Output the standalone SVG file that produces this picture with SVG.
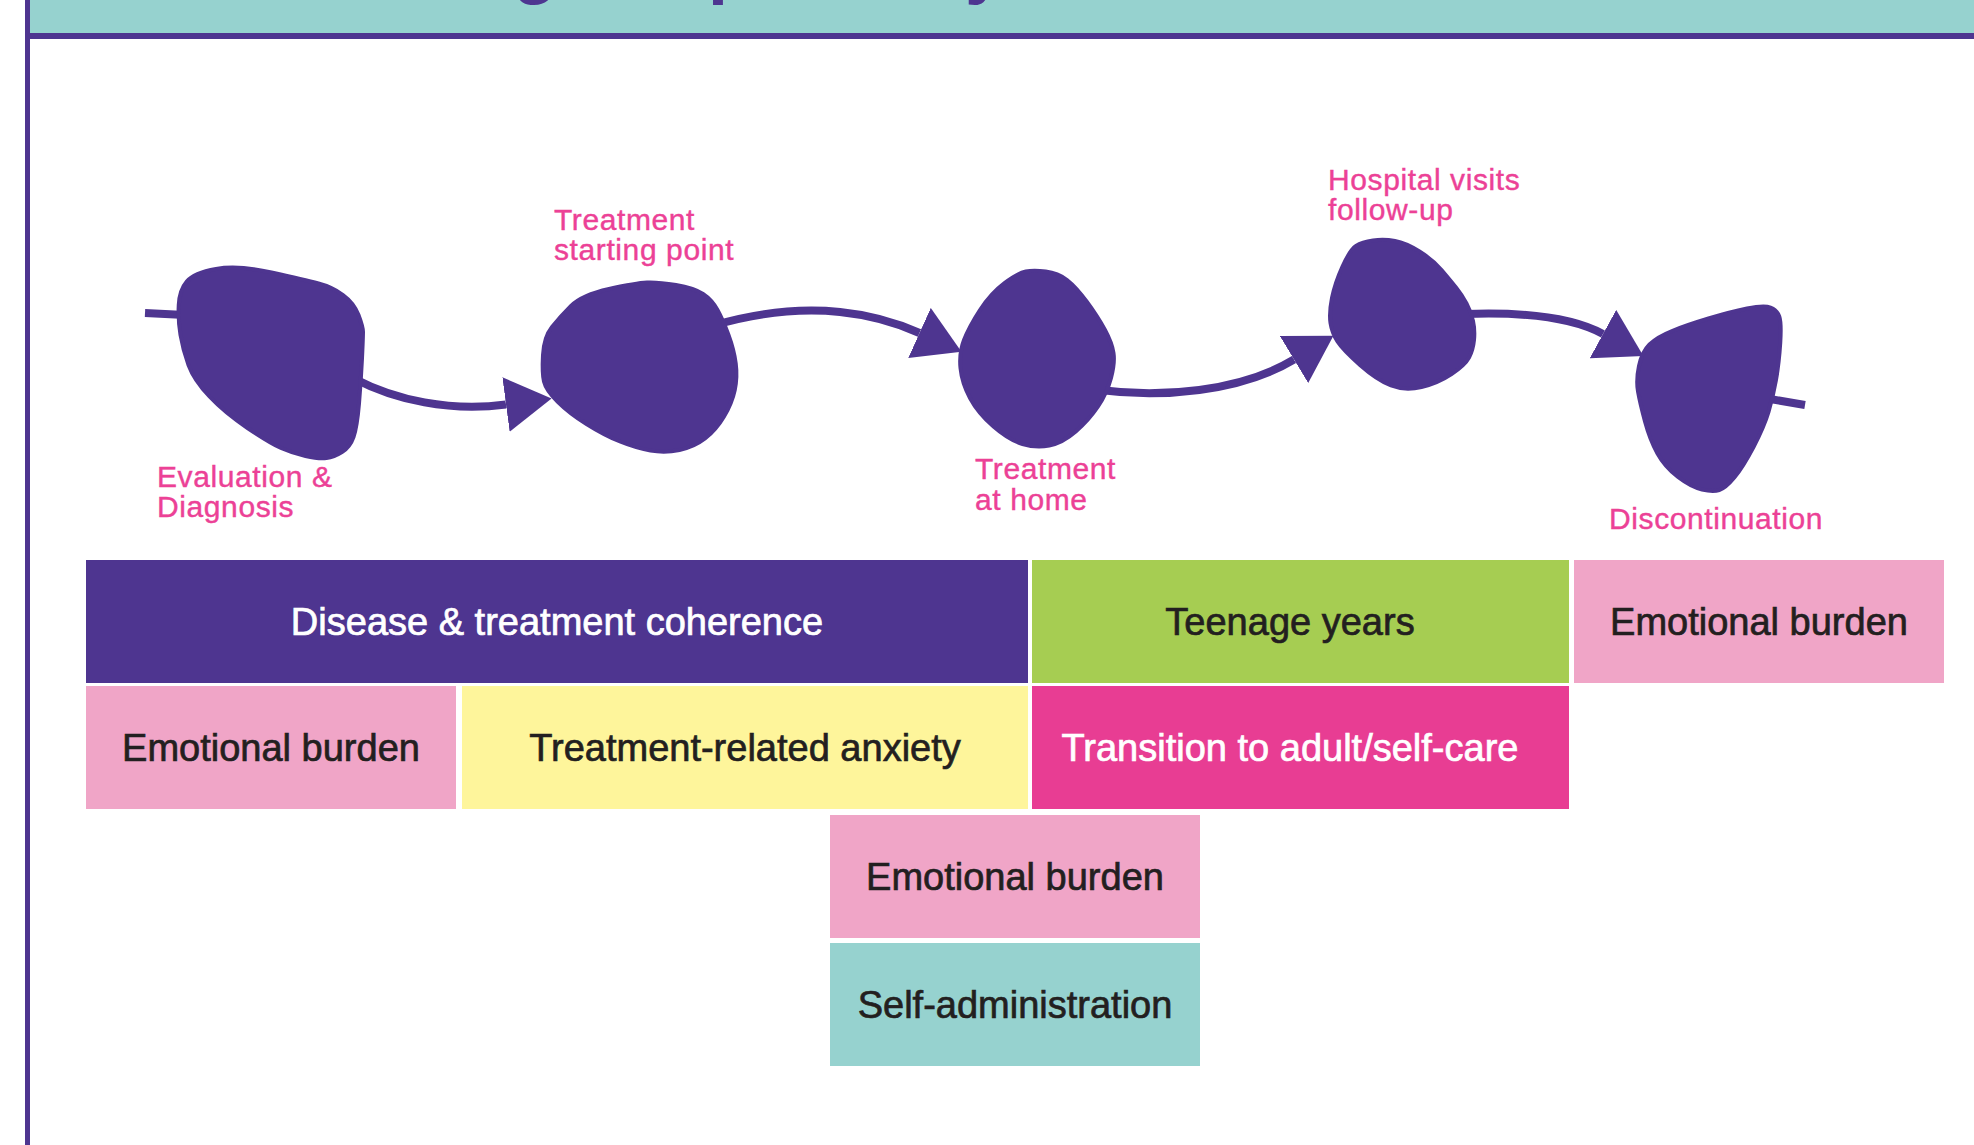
<svg xmlns="http://www.w3.org/2000/svg" width="1974" height="1145" viewBox="0 0 1974 1145">
<defs>
<style>
.blob{fill:#4e3590;stroke:#4e3590;stroke-width:4;stroke-linejoin:round}
.conn{fill:none;stroke:#4e3590;stroke-width:8}
.lbl{font-family:"Liberation Sans",Arial,sans-serif;font-size:30px;fill:#ec4196;stroke:#ec4196;stroke-width:0.4px;letter-spacing:0.6px}
.bt{font-family:"Liberation Sans",Arial,sans-serif;font-size:38px;text-anchor:middle;stroke-width:0.7px}
.dk{fill:#231f20;stroke:#231f20}
.wt{fill:#ffffff;stroke:#ffffff}
.ttl{font-family:"Liberation Sans",Arial,sans-serif;font-size:72px;font-weight:bold;fill:#4e3590}
</style>
<marker id="arrow" viewBox="0 0 46 55" markerWidth="46" markerHeight="55" markerUnits="userSpaceOnUse" refX="0" refY="27.5" orient="auto">
<path d="M0,0 L46,27.5 L0,55 Z" fill="#4e3590"/>
</marker>
</defs>
<rect x="0" y="0" width="1974" height="1145" fill="#ffffff"/>
<g id="header">
<rect x="30" y="0" width="1944" height="33" fill="#96d2cf"/>
<rect x="25" y="33" width="1949" height="6" fill="#4e3590"/>
<rect x="25" y="0" width="5" height="1145" fill="#4e3590"/>
<text class="ttl" x="513" y="-10">g</text>
<text class="ttl" x="708" y="-10">p</text>
<text class="ttl" x="965" y="-10">y</text>
</g>
<g id="connectors">
<path class="conn" d="M145,313 L185,315"/>
<path class="conn" d="M355,379 C395,400 450,412 506,404.5" marker-end="url(#arrow)"/>
<path class="conn" d="M715,325 C760,312 800,308 840,312 C870,315 895,322 919.5,333" marker-end="url(#arrow)"/>
<path class="conn" d="M1100,390 C1160,398 1240,392 1294,359.5" marker-end="url(#arrow)"/>
<path class="conn" d="M1465,314 C1520,312 1570,316 1603,334" marker-end="url(#arrow)"/>
<path class="conn" d="M1770,399 L1805,405"/>
</g>
<g id="node-evaluation">
<path class="blob" d="M186.75,281.5 Q194,273 216,269 Q238,265 271.5,272.5 Q305,280 318.5,283.5 Q332,287 343,295 Q354,303 358.5,315 Q363,327 363,332 Q363,337 362,358.5 Q361,380 359,403.5 Q357,427 353.5,437 Q350,447 342,452 Q334,457 326.5,458 Q319,459 305.5,456 Q292,453 281,448 Q270,443 247.5,428 Q225,413 209.5,396.5 Q194,380 188.5,365 Q183,350 180.5,335 Q178,320 178.75,305 Q179.5,290 186.75,281.5 Z"/>
<text class="lbl" x="157" y="487">Evaluation &amp;</text>
<text class="lbl" x="157" y="517">Diagnosis</text>
</g>
<g id="node-treatment-start">
<path class="blob" d="M544,381.5 Q542,373 543,355 Q544,337 552,327 Q560,317 571,306 Q582,295 609,289 Q636,283 647,282.5 Q658,282 676,285 Q694,288 703,294 Q712,300 717.5,310 Q723,320 728.5,335 Q734,350 735.75,363.5 Q737.5,377 734.75,390 Q732,403 724,416.5 Q716,430 705,438.5 Q694,447 679.5,450 Q665,453 650.5,450.5 Q636,448 620,441.5 Q604,435 586.5,424 Q569,413 557.5,401.5 Q546,390 544,381.5 Z"/>
<text class="lbl" x="554" y="230">Treatment</text>
<text class="lbl" x="554" y="260">starting point</text>
</g>
<g id="node-treatment-home">
<path class="blob" d="M1025.75,271.5 Q1033.5,270 1045.75,271.5 Q1058,273 1067,280 Q1076,287 1087,302 Q1098,317 1105,330 Q1112,343 1113.5,353 Q1115,363 1111,378 Q1107,393 1098,406.5 Q1089,420 1075.75,431.5 Q1062.5,443 1049.25,445.5 Q1036,448 1022.5,444 Q1009,440 993.5,426.5 Q978,413 970,398 Q962,383 960.5,368 Q959,353 964,340 Q969,327 980,310 Q991,293 1004.5,283 Q1018,273 1025.75,271.5 Z"/>
<text class="lbl" x="975" y="479">Treatment</text>
<text class="lbl" x="975" y="510">at home</text>
</g>
<g id="node-hospital">
<path class="blob" d="M1373,240.5 Q1384,239 1395,241 Q1406,243 1419.5,251.5 Q1433,260 1441.5,270 Q1450,280 1456,287.5 Q1462,295 1466.5,303.5 Q1471,312 1473,321 Q1475,330 1474,340 Q1473,350 1469,357.5 Q1465,365 1451.5,374 Q1438,383 1421.5,387 Q1405,391 1391,385.5 Q1377,380 1360,365 Q1343,350 1337.5,341.5 Q1332,333 1330.5,323 Q1329,313 1332,298 Q1335,283 1342.5,266.5 Q1350,250 1356,246 Q1362,242 1373,240.5 Z"/>
<text class="lbl" x="1328" y="190">Hospital visits</text>
<text class="lbl" x="1328" y="220">follow-up</text>
</g>
<g id="node-discontinuation">
<path class="blob" d="M1639,366 Q1642,352 1649.5,344.5 Q1657,337 1672,331 Q1687,325 1708.5,318.5 Q1730,312 1747,308.5 Q1764,305 1770.5,307.5 Q1777,310 1779.25,316.5 Q1781.5,323 1780.25,343 Q1779,363 1776,380 Q1773,397 1768.5,412 Q1764,427 1753.5,447 Q1743,467 1734.3,477.5 Q1725.6,488 1719.3,490 Q1713,492 1702,489.5 Q1691,487 1678,477 Q1665,467 1657.5,453.5 Q1650,440 1645,421.5 Q1640,403 1638,391.5 Q1636,380 1639,366 Z"/>
<text class="lbl" x="1609" y="529">Discontinuation</text>
</g>
<g id="box-disease-coherence">
<rect x="86" y="560" width="942" height="123" fill="#4e3590"/>
<text class="bt wt" x="557" y="635">Disease &amp; treatment coherence</text>
</g>
<g id="box-teenage">
<rect x="1032" y="560" width="537" height="123" fill="#a6cd52"/>
<text class="bt dk" x="1290" y="635">Teenage years</text>
</g>
<g id="box-emotional-1">
<rect x="1574" y="560" width="370" height="123" fill="#f0a5c7"/>
<text class="bt dk" x="1759" y="635">Emotional burden</text>
</g>
<g id="box-emotional-2">
<rect x="86" y="686" width="370" height="123" fill="#f0a5c7"/>
<text class="bt dk" x="271" y="761">Emotional burden</text>
</g>
<g id="box-anxiety">
<rect x="462" y="686" width="566" height="123" fill="#fef59b"/>
<text class="bt dk" x="745" y="761">Treatment-related anxiety</text>
</g>
<g id="box-transition">
<rect x="1032" y="686" width="537" height="123" fill="#e83d93"/>
<text class="bt wt" x="1290" y="761">Transition to adult/self-care</text>
</g>
<g id="box-emotional-3">
<rect x="830" y="815" width="370" height="123" fill="#f0a5c7"/>
<text class="bt dk" x="1015" y="890">Emotional burden</text>
</g>
<g id="box-self-admin">
<rect x="830" y="943" width="370" height="123" fill="#96d2cf"/>
<text class="bt dk" x="1015" y="1018">Self-administration</text>
</g>
</svg>
